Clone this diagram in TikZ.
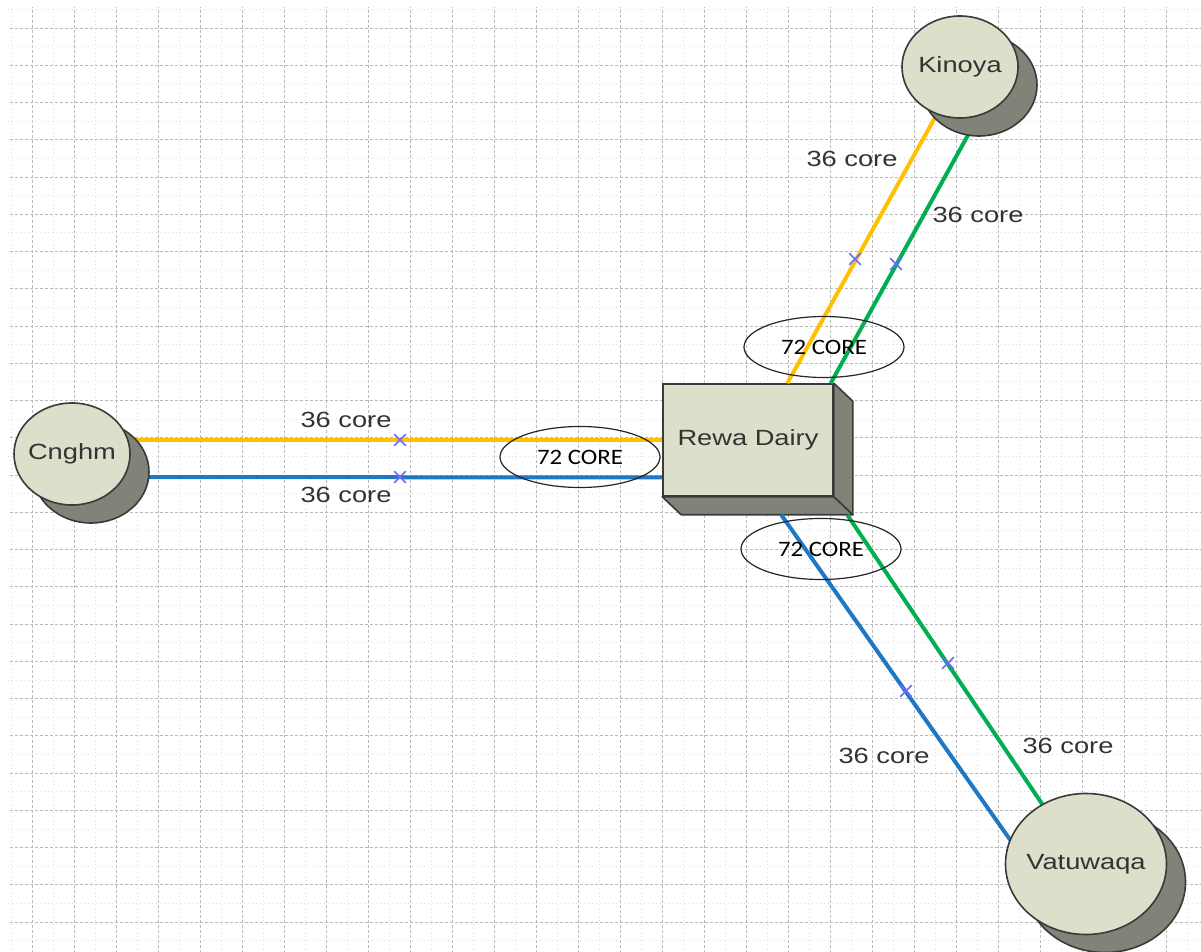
\documentclass[tikz,border=0pt]{standalone}
\usepackage{fontspec}
\setmainfont{Liberation Sans}[FakeStretch=1.24]
\newfontfamily\corefont{Carlito}[FakeStretch=1.13]
\usepackage{tikz}
\usetikzlibrary{calc, shapes.geometric, shapes.misc, shadows}

\definecolor{SiteFace}{HTML}{DCDFC9}
\definecolor{SiteShade}{HTML}{7F8378}
\definecolor{SiteEdge}{HTML}{3A3A3A}
\definecolor{FibreYellow}{HTML}{FFC000}
\definecolor{FibreBlue}{HTML}{1F78C4}
\definecolor{FibreGreen}{HTML}{00B050}
\definecolor{Splice}{HTML}{6B6BFF}

\tikzset{
  site/.style={ellipse, draw=SiteEdge, line width=.8pt, fill=SiteFace,
     inner ysep=0pt, inner xsep=-10pt, minimum width=58pt, minimum height=51pt,
     font=\fontsize{11}{13}\selectfont, text=black!80,
     copy shadow={fill=SiteShade, draw=SiteEdge, shadow xshift=9.5pt,
        shadow yshift=-9pt}},
  hub/.style={rectangle, draw=SiteEdge, line width=.8pt, fill=SiteFace,
     inner sep=0pt, minimum width=85pt, minimum height=56pt,
     font=\fontsize{11}{13}\selectfont, text=black!80},
  hubside/.style={draw=SiteEdge, line width=.8pt, fill=SiteShade,
     line join=round},
  fibre/.style={line width=2pt},
  splice/.style={cross out, draw=Splice, line width=.8pt, minimum size=5pt,
     inner sep=0pt},
  cores/.style={font=\fontsize{11}{13}\selectfont, text=black!80},
  bundle/.style={ellipse, draw=black!85, line width=.6pt, inner sep=0pt,
     minimum width=80pt, minimum height=30.5pt,
     font=\corefont\fontsize{11}{13}\selectfont},
  gridmajor/.style={draw=black!27, line width=.4pt, dash pattern=on 1.5pt off 1pt},
  gridminor/.style={draw=black!13, line width=.4pt, dash pattern=on .6pt off 1.4pt}
}

\begin{document}
\begin{tikzpicture}[x=0.5pt, y=-0.5pt]
   \useasboundingbox (0,0) rectangle (1201,952);

   \begin{scope}
      \clip (8,8) rectangle (1201,952);
      \foreach \i in {0,...,29} {
         \draw [gridmajor] ({-10+42*\i},0) -- ({-10+42*\i},952);
         \draw [gridminor] ({11+42*\i},0) -- ({11+42*\i},952);
      }
      \foreach \j in {0,...,26} {
         \draw [gridmajor] (0,{-9.25+37.25*\j}) -- (1201,{-9.25+37.25*\j});
         \draw [gridminor] (0,{9.4+37.25*\j}) -- (1201,{9.4+37.25*\j});
      }
   \end{scope}

   \node (dairy) at (748,440) [hub] {Rewa Dairy};
   \filldraw [hubside] (dairy.north east) -- ++(19,18)
      -- ($(dairy.south east)+(19,18)$) -- (dairy.south east) -- cycle;
   \filldraw [hubside] (dairy.south west) -- (dairy.south east)
      -- ++(19,18) -- ($(dairy.south west)+(19,18)$) -- cycle;

   \coordinate (dy-cy) at ($(dairy.north west)!0.5!(dairy.south west)$);
   \coordinate (dy-cb) at ($(dairy.north west)!0.83!(dairy.south west)$);
   \coordinate (dy-ky) at ($(dairy.north west)!0.729!(dairy.north east)$);
   \coordinate (dy-kg) at ($(dairy.north west)!0.982!(dairy.north east)$);
   \coordinate (dy-vb) at ($(dairy.south west)+(119,18)$);
   \coordinate (dy-vg) at ($(dairy.south west)+(185,18)$);

   \coordinate (cn-y) at (120,440);
   \coordinate (cn-b) at (130,477);
   \coordinate (ki-y) at (942,105);
   \coordinate (ki-g) at (983,108);
   \coordinate (va-b) at (1030,868);
   \coordinate (va-g) at (1061,832);

   \draw [fibre, FibreYellow] (dy-cy) -- (cn-y);
   \draw [fibre, FibreBlue] (dy-cb) -- (cn-b);
   \draw [fibre, FibreYellow] (dy-ky) -- (ki-y);
   \draw [fibre, FibreGreen] (dy-kg) -- (ki-g);
   \draw [fibre, FibreBlue] (dy-vb) -- (va-b);
   \draw [fibre, FibreGreen] (dy-vg) -- (va-g);

   \node (cnghm) at (72,454) [site] {Cnghm};
   \node (kinoya) at (960,67) [site] {Kinoya};
   \node (vatuwaqa) at (1086,864) [site, minimum width=80.5pt,
      minimum height=70.5pt] {Vatuwaqa};

   \node (sp-cy) at (400,440) [splice] {};
   \node (sp-cb) at (400,477) [splice] {};
   \node (sp-ky) at (855,259) [splice] {};
   \node (sp-kg) at (896,264) [splice] {};
   \node (sp-vb) at (906,691) [splice] {};
   \node (sp-vg) at (948,663) [splice] {};

   \node (lb-cy) at (346,420) [cores] {36 core};
   \node (lb-cb) at (346,495) [cores] {36 core};
   \node (lb-ky) at (852,159) [cores] {36 core};
   \node (lb-kg) at (978,215) [cores] {36 core};
   \node (lb-vb) at (884,756) [cores] {36 core};
   \node (lb-vg) at (1068,746) [cores] {36 core};

   \node (bd-c) at (580,457) [bundle] {72 CORE};
   \node (bd-k) at (824,347) [bundle] {72 CORE};
   \node (bd-v) at (821,549) [bundle] {72 CORE};
\end{tikzpicture}
\end{document}
